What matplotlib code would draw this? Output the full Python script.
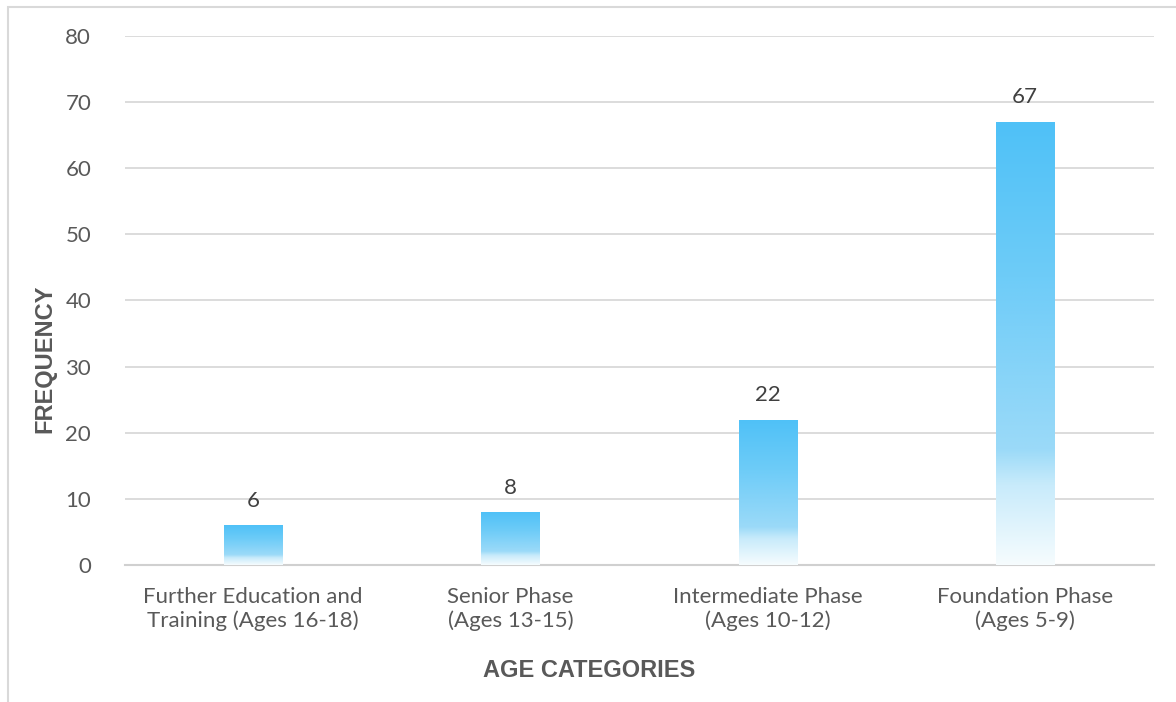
import numpy as np
import matplotlib
matplotlib.use("Agg")
import matplotlib.pyplot as plt
from matplotlib.colors import LinearSegmentedColormap
from matplotlib.patches import Rectangle

categories = ["Further Education and\nTraining (Ages 16-18)",
              "Senior Phase\n(Ages 13-15)",
              "Intermediate Phase\n(Ages 10-12)",
              "Foundation Phase\n(Ages 5-9)"]
frequency = [6, 8, 22, 67]
y_ticks = [0, 10, 20, 30, 40, 50, 60, 70, 80]

TEXT = "#595959"
GRID = "#D9D9D9"

# vertical fade: strong blue at the top, washing out to white at the base
fade = LinearSegmentedColormap.from_list(
    "fade", [(0.0, "#F6FCFE"), (0.18, "#C8EBFB"), (0.26, "#9BDAF8"),
             (0.65, "#6ECCF8"), (1.0, "#4FC1F7")])

fig = plt.figure(figsize=(11.76, 7.02), dpi=100)
ax = fig.add_axes([0.1059, 0.1952, 0.8750, 0.7535])

x = np.arange(len(categories))
width = 0.226
bars = ax.bar(x, frequency, width=width, color="none", edgecolor="none", zorder=3)
grad = np.linspace(0, 1, 256).reshape(-1, 1)
for bar, v in zip(bars, frequency):
    x0 = bar.get_x()
    im = ax.imshow(grad, cmap=fade, origin="lower", aspect="auto",
                   extent=(x0, x0 + width, 0, v), zorder=3)
    im.set_clip_path(bar)
    ax.text(bar.get_x() + width / 2, v + 2.2, f"{v}", ha="center", va="bottom",
            fontsize=16, color="#404040", family="Lato")

ax.set_xlim(-0.5, len(categories) - 0.5)
ax.set_ylim(0, 80)
ax.set_yticks(y_ticks)
ax.set_xticks(x)
ax.set_xticklabels(categories, fontsize=16, color=TEXT, family="Lato", linespacing=1.2)
ax.tick_params(axis="y", labelsize=16, labelcolor=TEXT, length=0, pad=24)
ax.tick_params(axis="x", length=0, pad=16)
for lab in ax.get_yticklabels():
    lab.set_family("Lato")

ax.grid(axis="y", color=GRID, linewidth=1.3)
ax.set_axisbelow(True)
for side in ["top", "right", "left"]:
    ax.spines[side].set_visible(False)
ax.spines["bottom"].set_color("#D0D0D0")
ax.spines["bottom"].set_linewidth(1.5)

fig.text(0.5013, 0.045, "AGE CATEGORIES", ha="center", va="center",
         fontsize=17, fontweight="bold", color=TEXT, family="Liberation Sans")
fig.text(0.038, 0.4893, "FREQUENCY", ha="center", va="center", rotation=90,
         fontsize=17, fontweight="bold", color=TEXT, family="Liberation Sans")

# chart frame, cut off on the right and bottom
fig.patches.append(Rectangle((8 / 1176, -0.05), 1.1, (702 - 7) / 702 + 0.05,
                             transform=fig.transFigure, fill=False,
                             edgecolor="#D9D9D9", linewidth=1.5))

fig.savefig("out.png", dpi=100)
